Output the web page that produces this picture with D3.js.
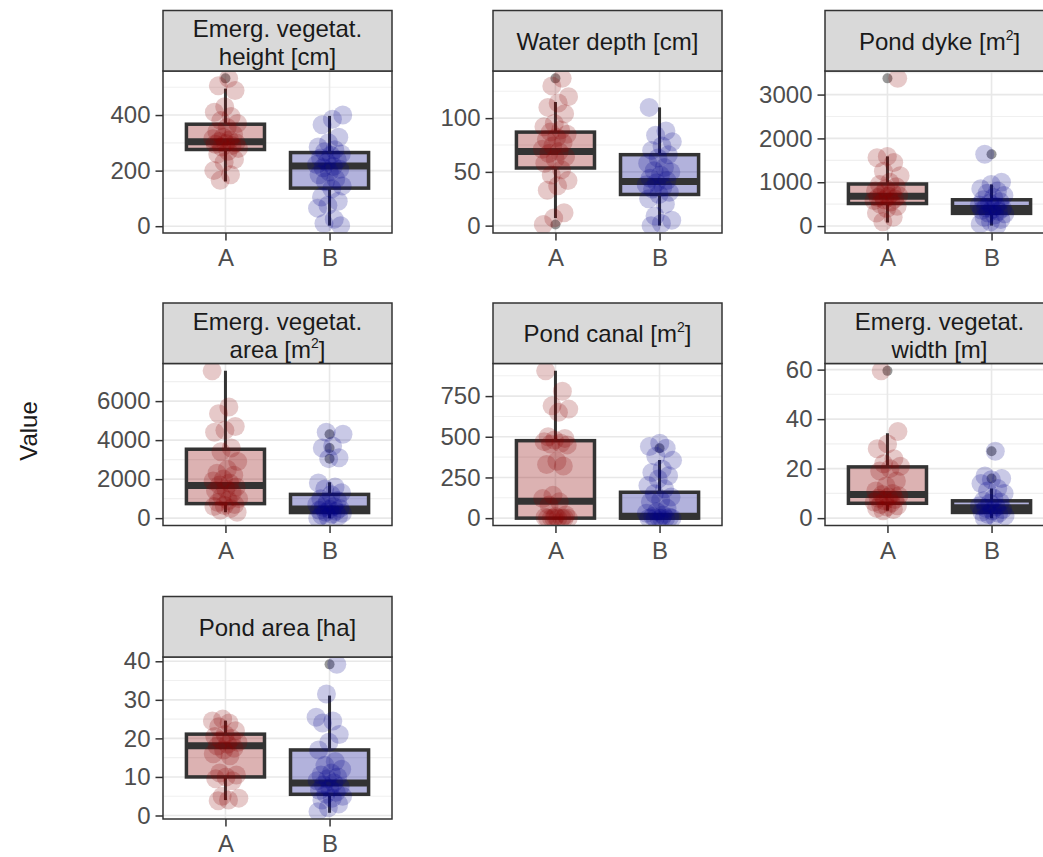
<!DOCTYPE html>
<html><head><meta charset="utf-8">
<script src="https://cdn.jsdelivr.net/npm/d3@7/dist/d3.min.js"></script>
<style>body{margin:0;background:#fff}svg{display:block}</style>
</head><body>
<svg id="chart" width="1043" height="857"></svg>
<script>
// Pond groups
const groups = ["A", "B"];

// Emergent vegetation height [cm]
const heightA = [532, 505, 488, 430, 410, 395, 380, 370, 355, 340, 330, 320, 315, 310, 305, 300, 298, 295, 290, 285, 280, 270, 260, 240, 230, 200, 185, 165];
const heightB = [400, 385, 365, 320, 300, 285, 275, 268, 260, 255, 245, 238, 230, 222, 215, 210, 205, 195, 185, 170, 160, 145, 135, 105, 90, 75, 65, 25, 10, 2];
// box stats: [lower whisker, q1, median, q3, upper whisker]
const heightBoxA = [161, 276, 304, 367, 495];
const heightBoxB = [2, 137, 217, 265, 397];
const heightOutA = [532];
const heightOutB = [];
const heightTicks = [0, 200, 400];

// Water depth [cm]
const depthA = [137, 130, 120, 114, 110, 104, 95, 92, 89, 87, 85, 82, 80, 77, 74, 71, 69, 67, 64, 62, 58, 52, 47, 42, 37, 33, 12, 7, 1];
const depthB = [110, 88, 84, 78, 74, 70, 66, 63, 58, 54, 51, 50, 47, 44, 42, 40, 38, 36, 34, 31, 29, 25, 20, 9, 5, 2, 0];
const depthBoxA = [7, 53.6, 69, 87, 115];
const depthBoxB = [0, 29, 41, 66, 110];
const depthOutA = [137, 1];
const depthOutB = [];
const depthTicks = [0, 50, 100];

// Pond dyke [m²]
const dykeA = [3370, 1590, 1560, 1450, 1250, 1150, 1000, 950, 900, 850, 800, 760, 720, 700, 680, 650, 620, 600, 580, 550, 500, 450, 400, 300, 200, 100];
const dykeB = [1640, 1000, 950, 850, 800, 750, 700, 650, 600, 560, 520, 480, 450, 420, 400, 380, 360, 340, 300, 280, 250, 200, 150, 100, 50, 10];
const dykeBoxA = [80, 515, 680, 960, 1590];
const dykeBoxB = [10, 290, 400, 600, 950];
const dykeOutA = [3370];
const dykeOutB = [1640];
const dykeTicks = [0, 1000, 2000, 3000];

// Emergent vegetation area [m²]
const areaA = [7550, 5700, 5350, 4700, 4500, 4400, 3600, 3400, 2900, 2500, 2300, 2200, 2000, 1900, 1800, 1700, 1600, 1500, 1400, 1300, 1100, 1000, 900, 800, 700, 650, 600, 500, 400, 300];
const areaB = [4400, 4300, 3700, 3600, 3100, 3050, 1800, 1600, 1500, 1300, 1200, 1000, 900, 800, 700, 600, 550, 500, 450, 400, 350, 300, 250, 200, 150, 100, 50, 0];
const areaBoxA = [300, 744, 1673, 3532, 7550];
const areaBoxB = [0, 287, 470, 1217, 1842];
const areaOutA = [];
const areaOutB = [4300, 3600, 3050];
const areaTicks = [0, 2000, 4000, 6000];

// Pond canal [m²]
const canalA = [905, 780, 690, 670, 650, 500, 490, 480, 470, 460, 455, 450, 350, 330, 320, 140, 120, 100, 80, 20, 10, 5, 0, 0, 0, 0, 0, 0, 0];
const canalB = [460, 440, 430, 380, 355, 300, 280, 260, 240, 200, 180, 150, 130, 110, 100, 60, 40, 30, 20, 10, 5, 0, 0, 0, 0, 0, 0];
const canalBoxA = [0, 0, 104, 476, 905];
const canalBoxB = [0, 0, 12, 159, 358];
const canalOutA = [];
const canalOutB = [430];
const canalTicks = [0, 250, 500, 750];

// Emergent vegetation width [m]
const widthA = [59.5, 35, 30, 28, 24, 22, 21, 20, 19, 15, 13, 11, 10, 9.5, 9, 8.5, 8, 7.5, 7, 6.5, 6, 5.5, 5, 4.5, 4, 3.5, 3];
const widthB = [27, 17, 16, 15.5, 14, 12, 11, 10, 8, 7, 6.5, 6, 5, 4.5, 4, 3.5, 3, 2.5, 2, 1.5, 1, 0.5, 0];
const widthBoxA = [3, 6, 9.5, 20.7, 34.3];
const widthBoxB = [0, 2.3, 4.2, 7, 12];
const widthOutA = [59.5];
const widthOutB = [27, 16];
const widthTicks = [0, 20, 40, 60];

// Pond area [ha]
const pondA = [25, 24.5, 24, 23, 22, 21, 20.5, 20, 19.5, 19, 18.5, 18, 17.5, 17, 16, 15.5, 11, 10.5, 10, 9.5, 9, 5, 4.5, 4, 3.8];
const pondB = [39.2, 31.5, 25.5, 24.5, 24, 21, 19, 17, 14, 13, 12, 11, 10.5, 10, 9.5, 9, 8.5, 8, 7.5, 7, 6.5, 6, 5.5, 5, 4.5, 4, 3, 2, 1];
const pondBoxA = [4, 10, 18.1, 21.1, 24.6];
const pondBoxB = [0.7, 5.5, 8.4, 17, 31.1];
const pondOutA = [];
const pondOutB = [39.2];
const pondTicks = [0, 10, 20, 30, 40];

const panels = [
  {title: ["Emerg. vegetat.", "height [cm]"], A: heightA, B: heightB, boxA: heightBoxA, boxB: heightBoxB, outA: heightOutA, outB: heightOutB, ticks: heightTicks},
  {title: ["Water depth [cm]"], A: depthA, B: depthB, boxA: depthBoxA, boxB: depthBoxB, outA: depthOutA, outB: depthOutB, ticks: depthTicks},
  {title: ["Pond dyke [m²]"], A: dykeA, B: dykeB, boxA: dykeBoxA, boxB: dykeBoxB, outA: dykeOutA, outB: dykeOutB, ticks: dykeTicks},
  {title: ["Emerg. vegetat.", "area [m²]"], A: areaA, B: areaB, boxA: areaBoxA, boxB: areaBoxB, outA: areaOutA, outB: areaOutB, ticks: areaTicks},
  {title: ["Pond canal [m²]"], A: canalA, B: canalB, boxA: canalBoxA, boxB: canalBoxB, outA: canalOutA, outB: canalOutB, ticks: canalTicks},
  {title: ["Emerg. vegetat.", "width [m]"], A: widthA, B: widthB, boxA: widthBoxA, boxB: widthBoxB, outA: widthOutA, outB: widthOutB, ticks: widthTicks},
  {title: ["Pond area [ha]"], A: pondA, B: pondB, boxA: pondBoxA, boxB: pondBoxB, outA: pondOutA, outB: pondOutB, ticks: pondTicks}
];

const FONT = "'Liberation Sans', Arial, Helvetica, sans-serif";
const colX = [163, 493, 825];
const rowY = [10.5, 303, 596.5];
const W = 229, STRIP = 60.5, H = 162;
const color = {A: "#8B0000", B: "#00008B"};
const DARK = "#333333";

const svg = d3.select("#chart");
svg.append("rect").attr("width", 1043).attr("height", 857).attr("fill", "#fff");

// strip label line with superscript handling for "²"
function stripLine(sel, str) {
  const parts = str.split("²");
  sel.append("tspan").text(parts[0]);
  for (let k = 1; k < parts.length; k++) {
    sel.append("tspan").attr("dy", -10).attr("font-size", 14).text("2");
    sel.append("tspan").attr("dy", 10).text(parts[k]);
  }
}

panels.forEach((p, i) => {
  const g = svg.append("g")
    .attr("transform", `translate(${colX[i % 3]},${rowY[Math.floor(i / 3)]})`);

  const x = d3.scalePoint().domain(groups).range([0, W]).padding(0.6);
  const step = x.step();
  const all = [...p.A, ...p.B, ...p.outA, ...p.outB];
  const [lo, hi] = d3.extent(all);
  const pad = (hi - lo) * 0.05;
  const y = d3.scaleLinear().domain([lo - pad, hi + pad]).range([STRIP + H, STRIP]);

  // panel background
  g.append("rect").attr("x", 0).attr("y", STRIP).attr("width", W).attr("height", H).attr("fill", "#fff");

  const clipId = "clip" + i;
  g.append("clipPath").attr("id", clipId)
    .append("rect").attr("x", 0).attr("y", STRIP).attr("width", W).attr("height", H);
  const body = g.append("g").attr("clip-path", `url(#${clipId})`);

  // grid: minor then major
  const tstep = p.ticks[1] - p.ticks[0];
  const [d0, d1] = y.domain();
  const minor = [];
  for (let v = p.ticks[0] - tstep / 2; v <= d1; v += tstep) if (v >= d0) minor.push(v);
  body.selectAll(".minor").data(minor).join("line")
    .attr("x1", 0).attr("x2", W).attr("y1", d => y(d)).attr("y2", d => y(d))
    .attr("stroke", "#F0F0F0").attr("stroke-width", 1.1);
  body.selectAll(".major").data(p.ticks).join("line")
    .attr("x1", 0).attr("x2", W).attr("y1", d => y(d)).attr("y2", d => y(d))
    .attr("stroke", "#E8E8E8").attr("stroke-width", 1.6);
  body.selectAll(".vmajor").data(groups).join("line")
    .attr("x1", d => x(d)).attr("x2", d => x(d)).attr("y1", STRIP).attr("y2", STRIP + H)
    .attr("stroke", "#E8E8E8").attr("stroke-width", 1.6);

  const boxW = step * 0.75;
  groups.forEach(gr => {
    const b = p["box" + gr];
    const cx = x(gr);
    // outliers
    body.selectAll(null).data(p["out" + gr]).join("circle")
      .attr("cx", cx).attr("cy", d => y(d)).attr("r", 5)
      .attr("fill", DARK).attr("fill-opacity", 0.5);
    // whiskers
    body.append("line").attr("x1", cx).attr("x2", cx).attr("y1", y(b[3])).attr("y2", y(b[4]))
      .attr("stroke", DARK).attr("stroke-width", 3);
    body.append("line").attr("x1", cx).attr("x2", cx).attr("y1", y(b[1])).attr("y2", y(b[0]))
      .attr("stroke", DARK).attr("stroke-width", 3);
    // box
    body.append("rect").attr("x", cx - boxW / 2).attr("width", boxW)
      .attr("y", y(b[3])).attr("height", Math.max(0.5, y(b[1]) - y(b[3])))
      .attr("fill", color[gr]).attr("fill-opacity", 0.3)
      .attr("stroke", DARK).attr("stroke-width", 3.5);
    // median
    body.append("line").attr("x1", cx - boxW / 2).attr("x2", cx + boxW / 2)
      .attr("y1", y(b[2])).attr("y2", y(b[2]))
      .attr("stroke", DARK).attr("stroke-width", 7);
  });

  // jittered points
  groups.forEach((gr, j) => {
    const cx = x(gr);
    body.selectAll(null).data(p[gr]).join("circle")
      .attr("cx", (d, k) => cx + ((((k + 1) * 0.6180339887 + j * 0.37 + i * 0.13) % 1) - 0.5) * 2 * 0.13 * step)
      .attr("cy", d => y(d)).attr("r", 9.5)
      .attr("fill", color[gr]).attr("fill-opacity", 0.21);
  });

  // panel border
  g.append("rect").attr("x", 0).attr("y", STRIP).attr("width", W).attr("height", H)
    .attr("fill", "none").attr("stroke", DARK).attr("stroke-width", 1.5);

  // strip
  g.append("rect").attr("x", 0).attr("y", 0).attr("width", W).attr("height", STRIP)
    .attr("fill", "#D9D9D9").attr("stroke", DARK).attr("stroke-width", 1.5);
  const baselines = p.title.length === 1 ? [39] : [26.5, 54.5];
  p.title.forEach((line, li) => {
    const t = g.append("text").attr("x", W / 2).attr("y", baselines[li])
      .attr("text-anchor", "middle").attr("font-family", FONT).attr("font-size", 24)
      .attr("fill", "#1A1A1A");
    stripLine(t, line);
  });

  // axes
  const ya = g.append("g").call(d3.axisLeft(y).tickValues(p.ticks).tickSize(7.5).tickPadding(5).tickFormat(d3.format("d")));
  const xa = g.append("g").attr("transform", `translate(0,${STRIP + H})`)
    .call(d3.axisBottom(x).tickSize(7.5).tickPadding(8.5));
  [ya, xa].forEach(a => {
    a.select(".domain").remove();
    a.selectAll(".tick line").attr("stroke", DARK).attr("stroke-width", 1.5);
    a.selectAll(".tick text").attr("fill", "#4D4D4D").attr("font-family", FONT).attr("font-size", 24);
  });
});

// shared y-axis title
svg.append("text").attr("transform", "translate(37,431) rotate(-90)")
  .attr("text-anchor", "middle").attr("font-family", FONT).attr("font-size", 24)
  .attr("fill", "#1A1A1A").text("Value");
</script>
</body></html>
